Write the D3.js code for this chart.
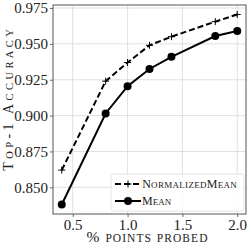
<!DOCTYPE html>
<html>
<head>
<meta charset="utf-8">
<script src="https://cdn.jsdelivr.net/npm/d3@7"></script>
<style>
  body { margin: 0; background: #fff; }
  svg text { font-family: "Liberation Serif", serif !important; }
</style>
</head>
<body>
<div id="chart"></div>
<script>
let svgWidth = 249;
let svgHeight = 249;

let chartMargin = { top: 5, right: 3, bottom: 35, left: 53 };
let chartWidth = svgWidth - chartMargin.left - chartMargin.right;
let chartHeight = svgHeight - chartMargin.top - chartMargin.bottom;

// data
let pointsProbed = [0.4, 0.8, 1.0, 1.2, 1.4, 1.8, 2.0];
let normalizedMean = [0.862, 0.924, 0.937, 0.949, 0.955, 0.9655, 0.9705];
let meanAcc = [0.838, 0.9015, 0.9205, 0.9325, 0.941, 0.9555, 0.959];
let xTicks = [0.5, 1.0, 1.5, 2.0];
let yTicks = [0.850, 0.875, 0.900, 0.925, 0.950, 0.975];
let seriesNames = ["NormalizedMean", "Mean"];

let svg = d3.select("#chart").append("svg")
    .attr("width", svgWidth)
    .attr("height", svgHeight);

let chartGroup = svg.append("g")
    .attr("transform", `translate(${chartMargin.left}, ${chartMargin.top})`);

let xLinearScale = d3.scaleLinear().domain([0.32, 2.08]).range([0, chartWidth]);
let yLinearScale = d3.scaleLinear().domain([0.8314, 0.9771]).range([chartHeight, 0]);

// grid
chartGroup.append("g").selectAll("line").data(xTicks).enter().append("line")
    .attr("x1", d => xLinearScale(d)).attr("x2", d => xLinearScale(d))
    .attr("y1", 0).attr("y2", chartHeight)
    .attr("stroke", "#d8d8d8").attr("stroke-width", 0.8);
chartGroup.append("g").selectAll("line").data(yTicks).enter().append("line")
    .attr("y1", d => yLinearScale(d)).attr("y2", d => yLinearScale(d))
    .attr("x1", 0).attr("x2", chartWidth)
    .attr("stroke", "#d8d8d8").attr("stroke-width", 0.8);

// axes
let bottomAxis = d3.axisBottom(xLinearScale).tickValues(xTicks).tickFormat(d3.format(".1f")).tickSize(3).tickPadding(2);
let leftAxis = d3.axisLeft(yLinearScale).tickValues(yTicks).tickFormat(d3.format(".3f")).tickSize(3).tickPadding(2);

let xaxis = chartGroup.append("g")
    .attr("transform", `translate(0, ${chartHeight})`)
    .call(bottomAxis);
let yaxis = chartGroup.append("g").call(leftAxis);

[xaxis, yaxis].forEach(ax => {
    ax.attr("font-size", 15);
    ax.select(".domain").remove();
    ax.selectAll("line").attr("stroke", "#444").attr("stroke-width", 0.8);
    ax.selectAll("text").attr("fill", "#222");
});

// frame
chartGroup.append("rect")
    .attr("width", chartWidth).attr("height", chartHeight)
    .attr("fill", "none").attr("stroke", "#555").attr("stroke-width", 1);

let lineGen = vals => d3.line()
    .x((d, i) => xLinearScale(pointsProbed[i]))
    .y(d => yLinearScale(d))(vals);

// NormalizedMean dashed with plus markers
chartGroup.append("path")
    .attr("d", lineGen(normalizedMean))
    .attr("fill", "none").attr("stroke", "#000").attr("stroke-width", 2)
    .attr("stroke-dasharray", "6,3");
chartGroup.selectAll(".plus").data(normalizedMean).enter().append("path")
    .attr("class", "plus")
    .attr("d", (d, i) => {
        let x = xLinearScale(pointsProbed[i]), y = yLinearScale(d);
        return `M${x - 3.5},${y}H${x + 3.5}M${x},${y - 3.5}V${y + 3.5}`;
    })
    .attr("stroke", "#000").attr("stroke-width", 1);

// Mean solid with circles
chartGroup.append("path")
    .attr("d", lineGen(meanAcc))
    .attr("fill", "none").attr("stroke", "#000").attr("stroke-width", 2);
chartGroup.selectAll(".dot").data(meanAcc).enter().append("circle")
    .attr("class", "dot")
    .attr("cx", (d, i) => xLinearScale(pointsProbed[i]))
    .attr("cy", d => yLinearScale(d))
    .attr("r", 4).attr("fill", "#000");

// small caps by hand: lower case letters drawn as smaller capitals
function smallCaps(textSel, str, big, small, width) {
    let runs = str.match(/[a-z]+|[^a-z]+/g);
    runs.forEach(r => {
        let lower = /[a-z]/.test(r[0]);
        textSel.append("tspan")
            .attr("font-size", lower ? small : big)
            .text(lower ? r.toUpperCase() : r);
    });
    if (width) {
        let len = textSel.node().getComputedTextLength();
        let sp = Math.max(0, (width - len) / str.length);
        textSel.attr("letter-spacing", sp).attr("dx", sp / 2);
    }
    return textSel;
}

// legend
let legend = chartGroup.append("g").attr("transform", `translate(${chartWidth - 135}, ${chartHeight - 40})`);
legend.append("rect")
    .attr("width", 133).attr("height", 37).attr("rx", 2)
    .attr("fill", "#fff").attr("fill-opacity", 0.85)
    .attr("stroke", "#ddd").attr("stroke-width", 0.8);
seriesNames.forEach((name, i) => {
    let y = 10 + i * 17;
    legend.append("line").attr("x1", 4).attr("x2", 30).attr("y1", y).attr("y2", y)
        .attr("stroke", "#000").attr("stroke-width", 2)
        .attr("stroke-dasharray", i === 0 ? "6,3" : null);
    if (i === 0) {
        legend.append("path").attr("d", `M13.5,${y}H20.5M17,${y - 3.5}V${y + 3.5}`)
            .attr("stroke", "#000").attr("stroke-width", 1);
    } else {
        legend.append("circle").attr("cx", 17).attr("cy", y).attr("r", 4).attr("fill", "#000");
    }
    let t = legend.append("text").attr("x", 31).attr("y", y + 4).attr("fill", "#222");
    smallCaps(t, name, 12, 9, i === 0 ? 95 : null);
});

// axis labels
let xLabel = svg.append("text")
    .attr("x", 147).attr("y", 242)
    .attr("text-anchor", "middle").attr("fill", "#222");
smallCaps(xLabel, "% points probed", 15.5, 11.5, 122);

let yLabel = svg.append("text")
    .attr("transform", `translate(12.5, 100) rotate(-90)`)
    .attr("text-anchor", "middle").attr("fill", "#222");
smallCaps(yLabel, "Top-1 Accuracy", 14, 10.5, 145);
</script>
</body>
</html>
